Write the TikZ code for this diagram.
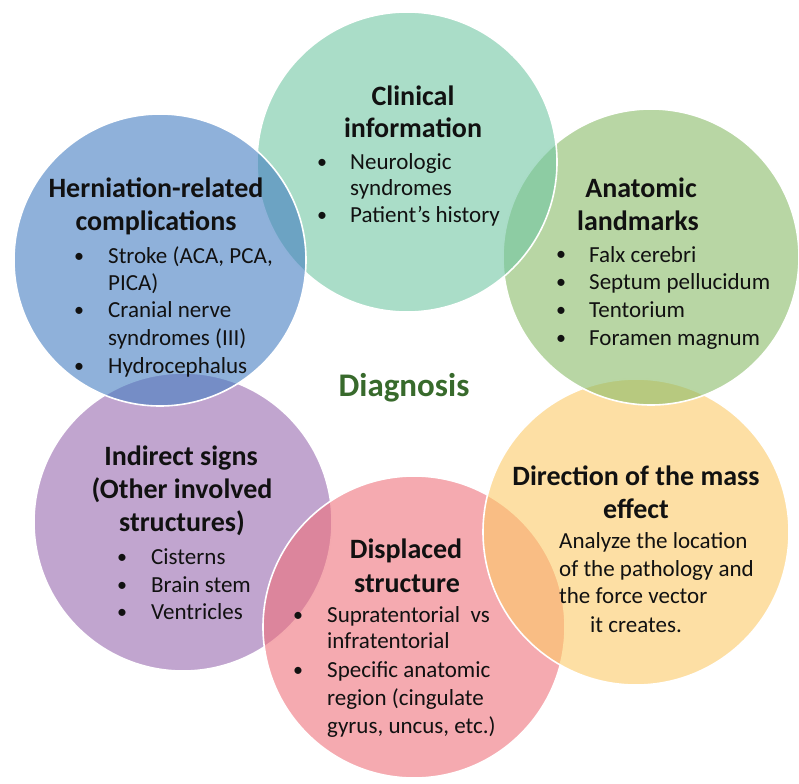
\documentclass[tikz,border=0pt]{standalone}
\usepackage{fontspec}
\setmainfont{Carlito}
\definecolor{cteal}{RGB}{113,198,163}
\definecolor{cblue}{RGB}{68,125,193}
\definecolor{cgreen}{RGB}{137,187,103}
\definecolor{cyellow}{RGB}{252,202,103}
\definecolor{cpurple}{RGB}{152,105,175}
\definecolor{cpink}{RGB}{238,113,123}
\definecolor{diagc}{RGB}{56,106,44}
\definecolor{txtc}{RGB}{17,17,17}
\tikzset{
  bub/.style={circle, draw=white, line width=1.6pt, fill opacity=0.6, inner sep=0pt, minimum size=#1},
  ttl/.style={anchor=base, inner sep=0pt, text=txtc, font=\fontsize{28}{33}\selectfont\bfseries},
  txt/.style={anchor=base west, inner sep=0pt, text=txtc, font=\fontsize{23}{27}\selectfont},
  bul/.style={anchor=base, inner sep=0pt, text=txtc, font=\fontsize{20}{24}\selectfont},
}
\begin{document}
\begin{tikzpicture}[x=1pt,y=-1pt]
\useasboundingbox (0,0) rectangle (799,783);
% circles (drawing order matters for overlaps)
\node[bub=298pt, fill=cpurple] (ind) at (183,522) {};
\node[bub=302pt, fill=cpink] (dis) at (414,627) {};
\node[bub=306pt, fill=cyellow] (dir) at (636,532) {};
\node[bub=296pt, fill=cgreen] (ana) at (651,257) {};
\node[bub=300pt, fill=cteal] (cli) at (407,162) {};
\node[bub=292pt, fill=cblue] (her) at (160,260) {};

% Clinical information
\node[ttl] (cliT1) at (413,106) {Clinical};
\node[ttl] (cliT2) at (413,138) {information};
\node[bul] (cliB1) at (322,169) {•};
\node[txt] (cliL1) at (350,170) {Neurologic};
\node[txt] (cliL2) at (350,196) {syndromes};
\node[bul] (cliB2) at (322,222) {•};
\node[txt] (cliL3) at (350,223) {Patient’s history};

% Herniation-related complications
\node[ttl] (herT1) at (156,198) {Herniation-related};
\node[ttl] (herT2) at (156,231) {complications};
\node[bul] (herB1) at (79,262) {•};
\node[txt] (herL1) at (108,263) {Stroke (ACA, PCA,};
\node[txt] (herL2) at (108,290) {PICA)};
\node[bul] (herB2) at (79,316) {•};
\node[txt] (herL3) at (108,317) {Cranial nerve};
\node[txt] (herL4) at (108,345) {syndromes (III)};
\node[bul] (herB3) at (79,372) {•};
\node[txt] (herL5) at (108,373) {Hydrocephalus};

% Anatomic landmarks
\node[ttl] (anaT1) at (641,198) {Anatomic};
\node[ttl] (anaT2) at (638,231) {landmarks};
\node[bul] (anaB1) at (561,261) {•};
\node[txt] (anaL1) at (589,262) {Falx cerebri};
\node[bul] (anaB2) at (561,288) {•};
\node[txt] (anaL2) at (589,289) {Septum pellucidum};
\node[bul] (anaB3) at (561,316) {•};
\node[txt] (anaL3) at (589,317) {Tentorium};
\node[bul] (anaB4) at (561,344) {•};
\node[txt] (anaL4) at (589,345) {Foramen magnum};

% Diagnosis
\node[anchor=base, inner sep=0pt, text=diagc, font=\fontsize{33}{38}\selectfont\bfseries] (diag) at (404,396) {Diagnosis};

% Direction of the mass effect
\node[ttl] (dirT1) at (636,485) {Direction of the mass};
\node[ttl] (dirT2) at (636,518) {effect};
\node[txt] (dirL1) at (559,548) {Analyze the location};
\node[txt] (dirL2) at (559,576) {of the pathology and};
\node[txt] (dirL3) at (559,603) {the force vector};
\node[txt] (dirL4) at (590,632) {it creates.};

% Indirect signs
\node[ttl] (indT1) at (181,465) {Indirect signs};
\node[ttl] (indT2) at (182,498) {(Other involved};
\node[ttl] (indT3) at (182,531) {structures)};
\node[bul] (indB1) at (122,563) {•};
\node[txt] (indL1) at (151,564) {Cisterns};
\node[bul] (indB2) at (122,591) {•};
\node[txt] (indL2) at (151,592) {Brain stem};
\node[bul] (indB3) at (122,618) {•};
\node[txt] (indL3) at (151,619) {Ventricles};

% Displaced structure
\node[ttl] (disT1) at (406,558) {Displaced};
\node[ttl] (disT2) at (407,592) {structure};
\node[bul] (disB1) at (298,621) {•};
\node[txt] (disL1) at (327,622) {Supratentorial\ \ vs};
\node[txt] (disL2) at (327,648) {infratentorial};
\node[bul] (disB2) at (298,676) {•};
\node[txt] (disL3) at (327,677) {Specific anatomic};
\node[txt] (disL4) at (327,705) {region (cingulate};
\node[txt] (disL5) at (327,733) {gyrus, uncus, etc.)};
\end{tikzpicture}
\end{document}
